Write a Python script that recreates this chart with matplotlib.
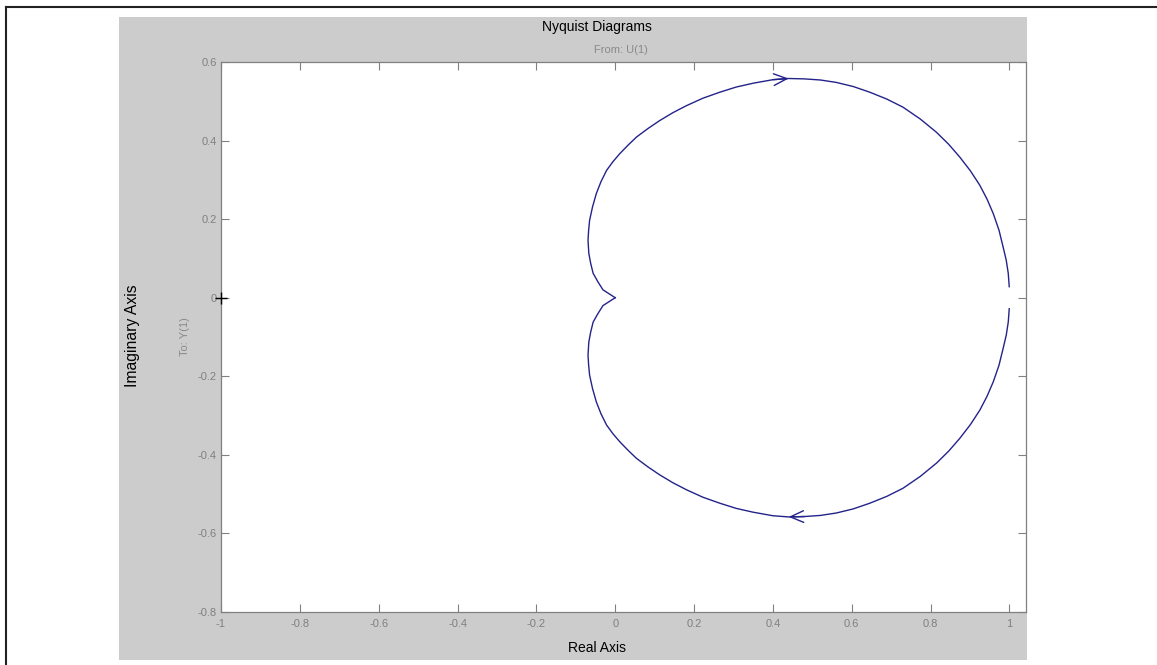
import matplotlib
matplotlib.use("Agg")
import matplotlib.pyplot as plt
from matplotlib.patches import Rectangle
from matplotlib.lines import Line2D

plt.rcParams["font.family"] = ["Liberation Sans", "DejaVu Sans"]
plt.rcParams["axes.unicode_minus"] = False

# ---- data (positive-frequency branch, omega increasing) ----
re_branch = [0.9995, 0.997, 0.9918, 0.984, 0.9735, 0.959, 0.9433, 0.925, 0.901, 0.874,
             0.8458, 0.815, 0.7739, 0.730, 0.6888, 0.646, 0.604, 0.561, 0.5204, 0.480,
             0.440, 0.400, 0.350, 0.3071, 0.265, 0.2223, 0.181, 0.1463, 0.113, 0.0831,
             0.054, 0.0322, 0.011, -0.0061, -0.022, -0.0362, -0.048, -0.0576, -0.065,
             -0.0675, -0.069, -0.067, -0.0623, -0.056, -0.0439, -0.031, 0.0]
im_branch = [-0.028, -0.062, -0.0958, -0.129, -0.1719, -0.214, -0.2506, -0.286, -0.3229, -0.358,
             -0.3906, -0.421, -0.4548, -0.485, -0.5057, -0.523, -0.5375, -0.548, -0.5542, -0.557,
             -0.558, -0.555, -0.546, -0.5363, -0.523, -0.5078, -0.489, -0.471, -0.451, -0.4307,
             -0.409, -0.388, -0.366, -0.3459, -0.324, -0.2952, -0.265, -0.231, -0.197,
             -0.171, -0.146, -0.113, -0.0877, -0.062, -0.0405, -0.020, 0.0]
arrow_idx = 20                 # point where the direction arrows sit
critical_point = (-1.0, 0.0)   # the "+" marker

xticks = [-1, -0.8, -0.6, -0.4, -0.2, 0, 0.2, 0.4, 0.6, 0.8, 1]
xtick_labels = ["-1", "-0.8", "-0.6", "-0.4", "-0.2", "0", "0.2", "0.4", "0.6", "0.8", "1"]
yticks = [-0.8, -0.6, -0.4, -0.2, 0, 0.2, 0.4, 0.6]
ytick_labels = ["-0.8", "-0.6", "-0.4", "-0.2", "0", "0.2", "0.4", "0.6"]
xlim = (-1.0, 1.042)
ylim = (-0.8, 0.6)

title_text = "Nyquist Diagrams"
from_text = "From: U(1)"
to_text = "To: Y(1)"
xlabel_text = "Real Axis"
ylabel_text = "Imaginary Axis"

# ---- figure ----
W, H = 1157, 665
fig = plt.figure(figsize=(W / 100, H / 100), dpi=100, facecolor="white")

def fx(px):
    return px / W

def fy(py):
    return 1 - py / H

# gray panel
fig.patches.append(Rectangle((fx(119), fy(660)), fx(1027) - fx(119), fy(17) - fy(660),
                             transform=fig.transFigure, facecolor="#cccccc",
                             edgecolor="none", zorder=-10))
# screenshot frame lines (top and left)
fig.add_artist(Line2D([fx(6), 1.0], [fy(7), fy(7)], transform=fig.transFigure,
                      color="#222222", lw=1.5, zorder=-5))
fig.add_artist(Line2D([fx(6), fx(6)], [fy(7), 0.0], transform=fig.transFigure,
                      color="#222222", lw=1.5, zorder=-5))

ax = fig.add_axes([fx(221), fy(612), fx(1026) - fx(221), fy(62) - fy(612)])
ax.set_zorder(1)
ax.set_facecolor("white")

line_color = "#23238a"
ax.plot(re_branch, im_branch, color=line_color, lw=1.0)
ax.plot(re_branch, [-v for v in im_branch], color=line_color, lw=1.0)

arrow_style = "->,head_length=0.95,head_width=0.42"
k = arrow_idx
ax.annotate("", xy=(re_branch[k], im_branch[k]), xytext=(re_branch[k - 1], im_branch[k - 1]),
            arrowprops=dict(arrowstyle=arrow_style, color=line_color, lw=1.0,
                            shrinkA=0, shrinkB=0, mutation_scale=10))
ax.annotate("", xy=(re_branch[k], -im_branch[k]), xytext=(re_branch[k + 1], -im_branch[k + 1]),
            arrowprops=dict(arrowstyle=arrow_style, color=line_color, lw=1.0,
                            shrinkA=0, shrinkB=0, mutation_scale=10))

ax.plot([critical_point[0]], [critical_point[1]], marker="+", color="black",
        ms=8, mew=1.0, ls="none", clip_on=False, zorder=5)

ax.set_xlim(*xlim)
ax.set_ylim(*ylim)
ax.set_xticks(xticks)
ax.set_xticklabels(xtick_labels)
ax.set_yticks(yticks)
ax.set_yticklabels(ytick_labels)

gray = "#808080"
ax.tick_params(direction="in", length=5.5, width=0.8, color=gray, labelcolor=gray,
               labelsize=8, top=True, right=True)
ax.tick_params(axis="x", pad=5)
ax.tick_params(axis="y", pad=3)
for sp in ax.spines.values():
    sp.set_color(gray)
    sp.set_linewidth(0.9)

fig.text(fx(597), fy(27), title_text, ha="center", va="center", fontsize=10, color="black")
fig.text(fx(621), fy(50), from_text, ha="center", va="center", fontsize=8, color="#8a8a8a")
fig.text(fx(133), fy(336), ylabel_text, ha="center", va="center", rotation=90,
         fontsize=11.3, color="black")
fig.text(fx(185), fy(337), to_text, ha="center", va="center", rotation=90,
         fontsize=8, color="#8a8a8a")
fig.text(fx(597), fy(648), xlabel_text, ha="center", va="center", fontsize=10, color="black")

fig.savefig("out.png", dpi=100, facecolor="white")
